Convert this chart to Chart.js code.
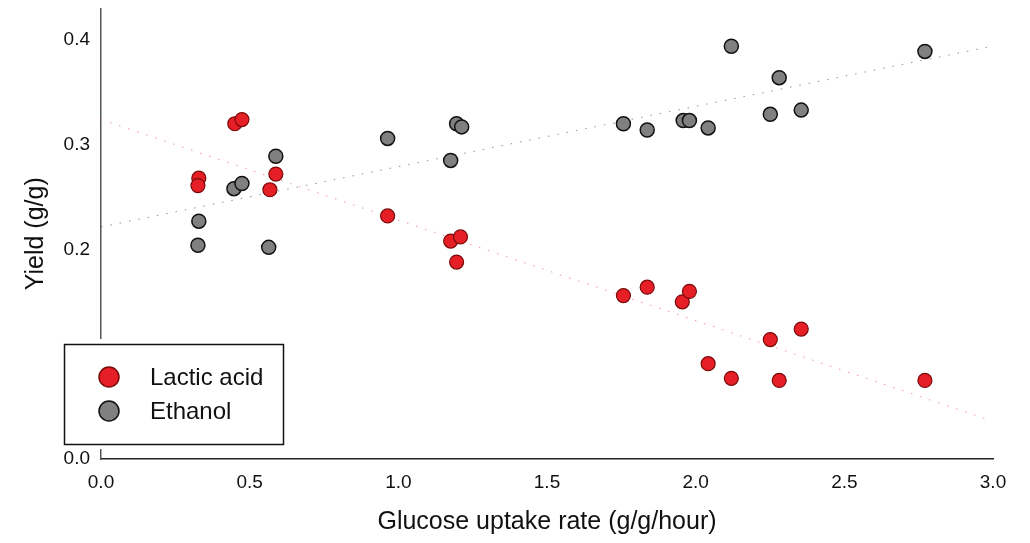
<html>
<head>
<meta charset="utf-8">
<title>Yield vs glucose uptake</title>
<script src="https://cdn.jsdelivr.net/npm/chart.js@4.4.1/dist/chart.umd.min.js"></script>
<style>
  body { margin: 0; background: #fff; }
</style>
</head>
<body>
<canvas id="yield_chart" width="1030" height="543"></canvas>

<script>
  // values
  var lactic_x = [0.329, 0.326, 0.450, 0.474, 0.568, 0.588, 0.964, 1.176, 1.209, 1.196,
                  1.757, 1.837, 1.955, 1.979, 2.042, 2.120, 2.251, 2.281, 2.355, 2.771]
  var lactic_y = [0.268, 0.261, 0.320, 0.324, 0.257, 0.272, 0.232, 0.208, 0.212, 0.188,
                  0.156, 0.164, 0.150, 0.160, 0.091, 0.077, 0.114, 0.075, 0.124, 0.075]
  var ethanol_x = [0.326, 0.329, 0.447, 0.474, 0.564, 0.588, 0.964, 1.176, 1.196, 1.213,
                   1.757, 1.837, 1.958, 1.979, 2.042, 2.120, 2.251, 2.281, 2.355, 2.771]
  var ethanol_y = [0.204, 0.227, 0.258, 0.263, 0.202, 0.289, 0.306, 0.285, 0.320, 0.317,
                   0.320, 0.314, 0.323, 0.323, 0.316, 0.394, 0.329, 0.364, 0.333, 0.389]

  // dotted trend lines, end points only
  var lactic_trend_x = [0.0, 2.98]
  var lactic_trend_y = [0.324, 0.038]
  var ethanol_trend_x = [0.0, 2.98]
  var ethanol_trend_y = [0.2215, 0.393]

  var x_ticks = [0.0, 0.5, 1.0, 1.5, 2.0, 2.5, 3.0]
  var y_ticks = [0.0, 0.1, 0.2, 0.3, 0.4]

  function pts(xs, ys){
    return xs.map((x, i) => ({x: x, y: ys[i]}))
  }

  var font_family = "Arial, 'Liberation Sans', Helvetica, sans-serif"

  // legend box sitting over the lower-left of the plot
  var legendBox = {
    id: 'legendBox',
    afterDraw(chart){
      var ctx = chart.ctx
      var items = chart.data.datasets.filter(d => d.type === 'scatter')
      ctx.save()
      ctx.fillStyle = '#fff'
      ctx.fillRect(58, 339, 231, 110)
      ctx.strokeStyle = '#111'
      ctx.lineWidth = 1.5
      ctx.strokeRect(64.5, 344.5, 219, 100)
      items.forEach((d, i) => {
        var cy = 377 + i * 34
        ctx.beginPath()
        ctx.arc(109, cy, 10, 0, Math.PI * 2)
        ctx.fillStyle = d.backgroundColor
        ctx.fill()
        ctx.lineWidth = 1.5
        ctx.strokeStyle = d.borderColor
        ctx.stroke()
        ctx.fillStyle = '#111'
        ctx.font = "24px " + font_family
        ctx.textBaseline = 'middle'
        ctx.textAlign = 'left'
        ctx.fillText(d.label, 150, cy + 1)
      })
      ctx.restore()
    }
  }

  var ctx = document.getElementById("yield_chart").getContext("2d")

  let chart = new Chart(ctx, {
    type: 'scatter',
    data: {
      datasets: [{
        type: 'scatter',
        label: 'Lactic acid',
        data: pts(lactic_x, lactic_y),
        backgroundColor: '#e61e25',
        borderColor: '#7a0a0a',
        pointRadius: 7,
        pointBorderWidth: 1.2,
        order: 1
      }, {
        type: 'scatter',
        label: 'Ethanol',
        data: pts(ethanol_x, ethanol_y),
        backgroundColor: '#808080',
        borderColor: '#111111',
        pointRadius: 7,
        pointBorderWidth: 1.5,
        order: 1
      }, {
        type: 'line',
        label: 'lactic trend',
        data: pts(lactic_trend_x, lactic_trend_y),
        borderColor: 'rgba(235,110,140,0.75)',
        borderWidth: 1,
        borderDash: [1.5, 8],
        pointRadius: 0,
        fill: false,
        order: 2
      }, {
        type: 'line',
        label: 'ethanol trend',
        data: pts(ethanol_trend_x, ethanol_trend_y),
        borderColor: 'rgba(110,110,110,0.75)',
        borderWidth: 1,
        borderDash: [1.5, 8],
        pointRadius: 0,
        fill: false,
        order: 2
      }]
    },
    options: {
      responsive: false,
      animation: false,
      layout: { padding: { top: 7, right: 37, left: 0, bottom: 0 } },
      plugins: {
        legend: { display: false },
        tooltip: { enabled: false }
      },
      scales: {
        x: {
          type: 'linear',
          min: 0, max: 3.0,
          afterFit(scale){
            scale.height = 84
            scale.paddingLeft = 0
            scale.paddingRight = 0
          },
          afterBuildTicks(scale){ scale.ticks = x_ticks.map(v => ({value: v})) },
          grid: { display: false, drawTicks: false },
          border: { display: true, color: '#222', width: 1.5 },
          ticks: {
            padding: 12,
            color: '#111',
            font: { family: font_family, size: 19 },
            callback: v => v.toFixed(1)
          },
          title: {
            display: true,
            text: 'Glucose uptake rate (g/g/hour)',
            color: '#111',
            font: { family: font_family, size: 25 },
            padding: { top: 0, bottom: 6 }
          }
        },
        y: {
          type: 'linear',
          min: 0, max: 0.43,
          afterFit(scale){
            scale.width = 101
            scale.paddingTop = 0
            scale.paddingBottom = 0
          },
          afterBuildTicks(scale){ scale.ticks = y_ticks.map(v => ({value: v})) },
          grid: { display: false, drawTicks: false },
          border: { display: true, color: '#555', width: 1.5 },
          ticks: {
            padding: 11,
            color: '#111',
            font: { family: font_family, size: 19 },
            callback: v => v.toFixed(1)
          },
          title: {
            display: true,
            text: 'Yield (g/g)',
            color: '#111',
            font: { family: font_family, size: 25 },
            padding: { top: 21, bottom: 0 }
          }
        }
      }
    },
    plugins: [legendBox]
  });
</script>
</body>
</html>
